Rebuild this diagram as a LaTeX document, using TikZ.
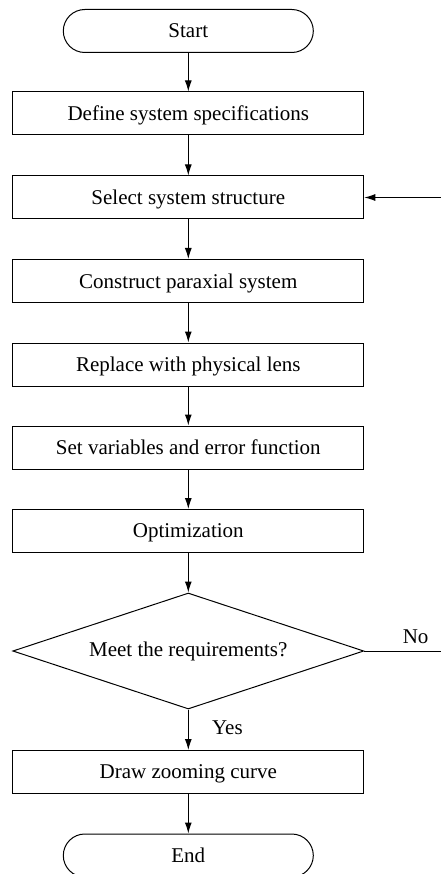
\documentclass[tikz,border=0pt]{standalone}
\usepackage{fontspec}
\setmainfont{Liberation Serif}
\usetikzlibrary{shapes.geometric,arrows.meta}
\begin{document}
\begin{tikzpicture}[x=1pt,y=-1pt,
  every node/.style={font=\fontsize{21}{24}\selectfont},
  procbox/.style={draw,line width=1pt,minimum width=351pt,minimum height=43pt,inner sep=0pt,text depth=0pt,yshift=-1.5pt},
  termbox/.style={draw,line width=1pt,rounded corners=21.5pt,minimum width=250pt,minimum height=43pt,inner sep=0pt},
  decbox/.style={draw,line width=1pt,diamond,aspect=3.03,minimum width=351pt,minimum height=116pt,inner sep=0pt},
  flow/.style={line width=1pt,-{Latex[length=11pt,width=7pt]}},
  plain/.style={line width=1pt}]
\useasboundingbox (0,0) rectangle (440,874);
\node[termbox] (start) at (188.3,31) {Start};
\node[procbox] (def) at (188.3,112) {Define system specifications};
\node[procbox] (sel) at (188.3,196) {Select system structure};
\node[procbox] (con) at (188.3,279.5) {Construct paraxial system};
\node[procbox] (rep) at (188.3,363) {Replace with physical lens};
\node[procbox] (set) at (188.3,446) {Set variables and error function};
\node[procbox] (opt) at (188.3,529.5) {Optimization};
\node[decbox] (dec) at (188.3,651) {Meet the requirements?};
\node[procbox] (drw) at (188.3,770.5) {Draw zooming curve};
\node[termbox] (end) at (188.3,855.5) {End};
\draw[flow] (start) -- (def);
\draw[flow] (def) -- (sel);
\draw[flow] (sel) -- (con);
\draw[flow] (con) -- (rep);
\draw[flow] (rep) -- (set);
\draw[flow] (set) -- (opt);
\draw[flow] (opt) -- (dec);
\draw[flow] (dec) -- node[right,xshift=20pt,yshift=2pt] (yes) {Yes} (drw);
\draw[flow] (drw) -- (end);
\coordinate (c1) at (442,651);
\coordinate (c2) at (442,197.5);
\draw[flow] (dec.east) -- node[above,pos=0.66,yshift=3pt] (no) {No} (c1) -- (c2) -- (sel.east);
\end{tikzpicture}
\end{document}
